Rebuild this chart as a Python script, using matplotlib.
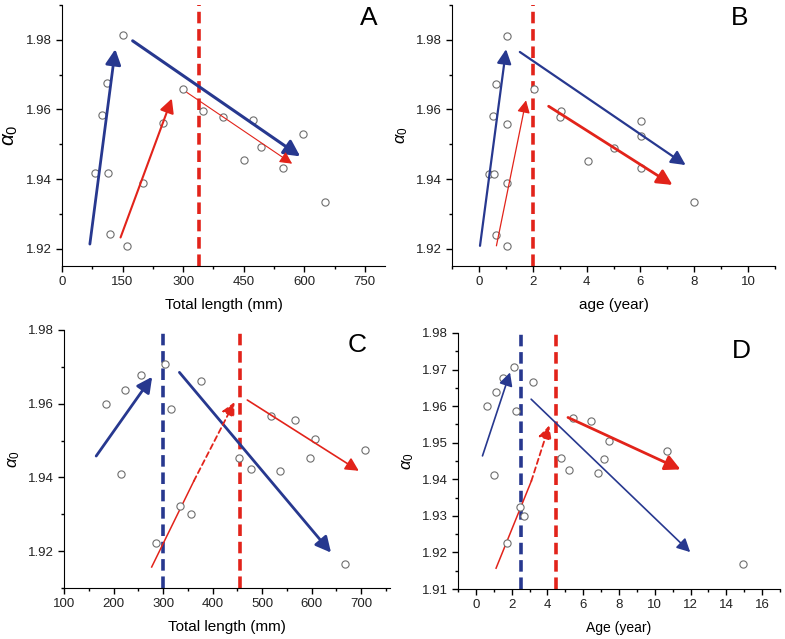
import matplotlib
matplotlib.use('Agg')
import matplotlib.pyplot as plt
from matplotlib.ticker import MultipleLocator, FormatStrFormatter

plt.rcParams['font.family'] = ['Liberation Sans', 'DejaVu Sans']
plt.rcParams['mathtext.fontset'] = 'custom'
plt.rcParams['mathtext.rm'] = 'Liberation Sans'
plt.rcParams['mathtext.it'] = 'Liberation Sans:italic'

BLUE = '#27388f'
RED = '#e2231a'

# ---- panel A: alpha0 vs total length (mm)
a_x = [151, 111, 100, 82, 114, 119, 160, 200, 251, 300, 350, 399, 451, 474, 494, 548, 598, 652]
a_y = [1.9813, 1.9675, 1.9583, 1.9416, 1.9416, 1.9242, 1.9207, 1.9388, 1.9560, 1.9660,
       1.9595, 1.9577, 1.9454, 1.9569, 1.9493, 1.9432, 1.9529, 1.9335]
a_arrows = [  # (x0, y0, x1, y1, colour, width)
    (69, 1.9213, 132, 1.9773, BLUE, 2.0),
    (175, 1.9797, 590, 1.9465, BLUE, 2.2),
    (145, 1.9232, 272, 1.9631, RED, 1.5),
    (309, 1.9649, 570, 1.9444, RED, 0.8),
]
a_vlines = [(340, RED)]

# ---- panel B: alpha0 vs age (year)
b_x = [1.05, 0.63, 0.52, 1.04, 0.38, 0.56, 1.04, 0.65, 1.04, 2.04, 3.04, 3.01, 4.05, 5.01,
       6.02, 6.02, 6.01, 8.0]
b_y = [1.9810, 1.9672, 1.9581, 1.9559, 1.9415, 1.9415, 1.9388, 1.9240, 1.9207, 1.9658,
       1.9595, 1.9578, 1.9453, 1.9488, 1.9568, 1.9524, 1.9431, 1.9333]
b_arrows = [
    (0.04, 1.9208, 1.01, 1.9773, BLUE, 1.6),
    (1.52, 1.9765, 7.68, 1.9440, BLUE, 1.6),
    (0.65, 1.9208, 1.75, 1.9626, RED, 0.9),
    (2.59, 1.9609, 7.19, 1.9383, RED, 2.0),
]
b_vlines = [(2, RED)]

# ---- panel C: alpha0 vs total length (mm)
c_x = [185, 224, 255, 216, 304, 317, 376, 286, 335, 357, 454, 477, 518, 536, 566, 607,
       596, 708, 668]
c_y = [1.9600, 1.9636, 1.9678, 1.9408, 1.9709, 1.9586, 1.9662, 1.9222, 1.9322, 1.9300,
       1.9454, 1.9424, 1.9567, 1.9417, 1.9557, 1.9504, 1.9454, 1.9474, 1.9164]
c_arrows = [
    (165, 1.9458, 278, 1.9673, BLUE, 2.0),
    (333, 1.9685, 639, 1.9196, BLUE, 2.0),
    (470, 1.9610, 695, 1.9418, RED, 1.2),
]
c_broken = (277, 1.9157, 362, 1.9390, 444, 1.9604)  # solid part, then dashed to the head
c_vlines = [(300, BLUE), (455, RED)]

# ---- panel D: alpha0 vs age (year)
d_x = [0.65, 1.11, 1.52, 2.15, 2.26, 3.2, 1.0, 2.44, 2.7, 1.76, 4.74, 5.2, 5.41, 6.46,
       7.44, 7.19, 6.85, 10.67, 14.94]
d_y = [1.9600, 1.9639, 1.9677, 1.9707, 1.9588, 1.9665, 1.9413, 1.9323, 1.9301, 1.9225,
       1.9458, 1.9426, 1.9568, 1.9560, 1.9505, 1.9456, 1.9418, 1.9477, 1.9168]
d_arrows = [
    (0.37, 1.9464, 1.91, 1.9692, BLUE, 1.2),
    (3.09, 1.9619, 11.98, 1.9201, BLUE, 1.2),
    (5.15, 1.9569, 11.44, 1.9427, RED, 2.0),
]
d_broken = (1.13, 1.9157, 3.1, 1.9395, 4.1, 1.9547)
d_vlines = [(2.5, BLUE), (4.5, RED)]


def arrow(ax, x0, y0, x1, y1, color, lw, ls='-'):
    hs = 0.9 + 0.25 * lw
    ax.annotate('', xy=(x1, y1), xytext=(x0, y0),
                arrowprops=dict(arrowstyle='-|>,head_length=%.2f,head_width=%.2f' % (0.55 * hs, 0.28 * hs),
                                color=color, lw=lw, linestyle=ls, shrinkA=0, shrinkB=0,
                                mutation_scale=12))


def panel(ax, xs, ys, arrows, vlines, letter, letter_pos, xlabel, ylab_size):
    for xv, col in vlines:
        ax.axvline(xv, color=col, lw=2.6, linestyle=(0, (3.2, 1.6)), zorder=1)
    ax.plot(xs, ys, 'o', ms=5.2, mfc='white', mec='#6e6e6e', mew=0.8, zorder=3)
    for x0, y0, x1, y1, col, lw in arrows:
        arrow(ax, x0, y0, x1, y1, col, lw)
    ax.spines['top'].set_visible(False)
    ax.spines['right'].set_visible(False)
    ax.tick_params(which='both', direction='out', labelsize=9.5, width=1, labelcolor='#222222')
    ax.tick_params(which='major', length=4)
    ax.tick_params(which='minor', length=2.5)
    ax.yaxis.set_major_formatter(FormatStrFormatter('%.2f'))
    ax.set_xlabel(xlabel, fontsize=11, labelpad=7)
    ax.set_ylabel(r'$\alpha_0$', fontsize=ylab_size, labelpad=4)
    ax.text(letter_pos[0], letter_pos[1], letter, transform=ax.transAxes, fontsize=19,
            ha='center', va='center')


fig = plt.figure(figsize=(7.85, 6.39), dpi=100)
axA = fig.add_axes([0.079, 0.5837, 0.4114, 0.4085])
axB = fig.add_axes([0.5758, 0.5837, 0.4115, 0.4085])
axC = fig.add_axes([0.0815, 0.0798, 0.4153, 0.4038])
axD = fig.add_axes([0.5834, 0.0782, 0.4102, 0.4007])

panel(axA, a_x, a_y, a_arrows, a_vlines, 'A', (0.95, 0.95), 'Total length (mm)', 15)
axA.set_xlim(0, 800)
axA.set_ylim(1.915, 1.99)
axA.xaxis.set_major_locator(MultipleLocator(150))
axA.xaxis.set_minor_locator(MultipleLocator(75))
axA.yaxis.set_major_locator(MultipleLocator(0.02))
axA.yaxis.set_minor_locator(MultipleLocator(0.01))

panel(axB, b_x, b_y, b_arrows, b_vlines, 'B', (0.89, 0.95), 'age (year)', 12)
axB.set_xlim(-1, 11)
axB.set_ylim(1.915, 1.99)
axB.xaxis.set_major_locator(MultipleLocator(2))
axB.xaxis.set_minor_locator(MultipleLocator(1))
axB.yaxis.set_major_locator(MultipleLocator(0.02))
axB.yaxis.set_minor_locator(MultipleLocator(0.01))

panel(axC, c_x, c_y, c_arrows, c_vlines, 'C', (0.90, 0.94), 'Total length (mm)', 12)
x0, y0, xm, ym, x1, y1 = c_broken
axC.plot([x0, xm], [y0, ym], color=RED, lw=1.1)
arrow(axC, xm, ym, x1, y1, RED, 1.3, ls=(0, (3, 2)))
axC.set_xlim(100, 758)
axC.set_ylim(1.91, 1.98)
axC.xaxis.set_major_locator(MultipleLocator(100))
axC.xaxis.set_minor_locator(MultipleLocator(50))
axC.yaxis.set_major_locator(MultipleLocator(0.02))
axC.yaxis.set_minor_locator(MultipleLocator(0.01))

panel(axD, d_x, d_y, d_arrows, d_vlines, 'D', (0.88, 0.93), 'Age (year)', 12)
x0, y0, xm, ym, x1, y1 = d_broken
axD.plot([x0, xm], [y0, ym], color=RED, lw=1.1)
arrow(axD, xm, ym, x1, y1, RED, 1.3, ls=(0, (3, 2)))
axD.set_xlim(-1, 17)
axD.set_ylim(1.91, 1.98)
axD.xaxis.set_major_locator(MultipleLocator(2))
axD.xaxis.set_minor_locator(MultipleLocator(1))
axD.yaxis.set_major_locator(MultipleLocator(0.01))
axD.yaxis.set_minor_locator(MultipleLocator(0.005))
axD.xaxis.label.set_size(10)

fig.savefig('out.png', dpi=100)
